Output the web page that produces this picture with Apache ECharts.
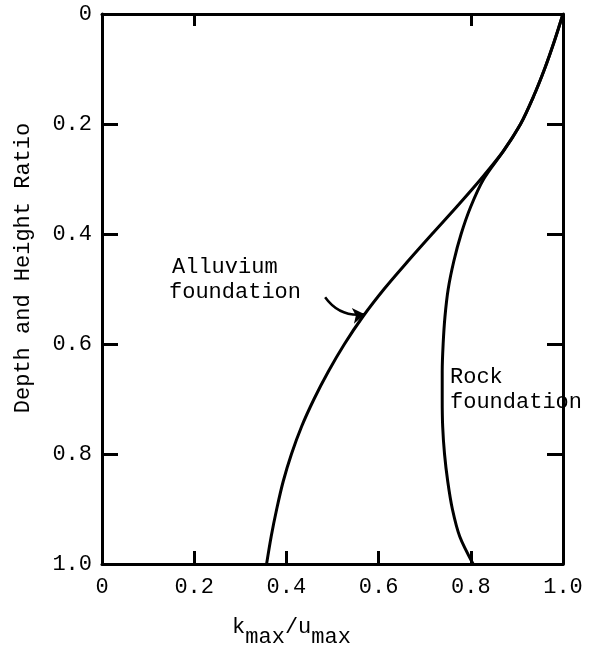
<!DOCTYPE html>
<html>
<head>
<meta charset="utf-8">
<script src="https://cdn.jsdelivr.net/npm/echarts@6/dist/echarts.min.js"></script>
<style>
  html, body { margin: 0; background: #fff; }
  #chart { width: 605px; height: 654px; }
</style>
</head>
<body>
<div id="chart"></div>
<script>
// values (x = k_max/u_max, y = depth and height ratio)
const depth = [0.00, 0.05, 0.10, 0.15, 0.20, 0.25, 0.30, 0.35, 0.40, 0.45, 0.50, 0.55, 0.60, 0.65, 0.70, 0.75, 0.80, 0.85, 0.90, 0.95, 1.00];
const alluviumX = [1.000, 0.981, 0.960, 0.936, 0.908, 0.870, 0.822, 0.770, 0.716, 0.663, 0.612, 0.566, 0.526, 0.491, 0.460, 0.433, 0.411, 0.393, 0.379, 0.367, 0.357];
const rockX = [1.000, 0.981, 0.960, 0.936, 0.908, 0.870, 0.828, 0.800, 0.779, 0.763, 0.751, 0.744, 0.740, 0.738, 0.738, 0.739, 0.743, 0.750, 0.760, 0.776, 0.805];
const axisTicks = [0, 0.2, 0.4, 0.6, 0.8, 1.0];
const innerTicks = [0.2, 0.4, 0.6, 0.8];
const topTicks = [0.2, 0.8];
const arrowFrom = [0.484, 0.515];
const arrowTo = [0.570, 0.546];

const font = "'Liberation Mono', monospace";
const black = '#000';

const pairs = (xs, ys) => xs.map((x, i) => [x, ys[i]]);
const fmt = v => (v === 0 ? '0' : v.toFixed(1));

const chart = echarts.init(document.getElementById('chart'));

const baseAxis = {
  type: 'value',
  min: 0,
  max: 1,
  interval: 0.2,
  splitLine: { show: false },
  axisLine: { show: true, onZero: false, lineStyle: { color: black, width: 3 } }
};
const tickStyle = { color: black, width: 3 };

chart.setOption({
  animation: false,
  grid: { left: 102, right: 42, top: 14, bottom: 90 },
  xAxis: [
    Object.assign({}, baseAxis, {
      position: 'bottom',
      axisTick: { inside: true, length: 13, customValues: innerTicks, lineStyle: tickStyle },
      axisLabel: { margin: 12, color: black, fontFamily: font, fontSize: 22, formatter: fmt, customValues: axisTicks },
      name: '{n|k}{s|max}{n|/u}{s|max}',
      nameLocation: 'middle',
      nameGap: 52,
      nameTextStyle: {
        padding: [0, 82, 0, 0],
        rich: {
          n: { fontFamily: font, fontSize: 22, color: black, lineHeight: 32, verticalAlign: 'top' },
          s: { fontFamily: font, fontSize: 22, color: black, lineHeight: 32, verticalAlign: 'bottom' }
        }
      }
    }),
    Object.assign({}, baseAxis, {
      position: 'top',
      axisTick: { inside: true, length: 12, customValues: topTicks, lineStyle: tickStyle },
      axisLabel: { show: false }
    })
  ],
  yAxis: [
    Object.assign({}, baseAxis, {
      position: 'left',
      inverse: true,
      axisTick: { inside: true, length: 16, customValues: innerTicks, lineStyle: tickStyle },
      axisLabel: { margin: 10, color: black, fontFamily: font, fontSize: 22, formatter: fmt, customValues: axisTicks },
      name: 'Depth and Height Ratio',
      nameLocation: 'middle',
      nameGap: 68,
      nameTextStyle: { color: black, fontFamily: font, fontSize: 22, padding: [0, 0, 0, 42] }
    }),
    Object.assign({}, baseAxis, {
      position: 'right',
      inverse: true,
      axisTick: { inside: true, length: 16, customValues: innerTicks, lineStyle: tickStyle },
      axisLabel: { show: false }
    })
  ],
  series: [
    {
      name: 'Alluvium foundation',
      type: 'line',
      data: pairs(alluviumX, depth),
      smooth: 0.3,
      showSymbol: false,
      lineStyle: { color: black, width: 3 }
    },
    {
      name: 'Rock foundation',
      type: 'line',
      data: pairs(rockX, depth),
      smooth: 0.3,
      showSymbol: false,
      lineStyle: { color: black, width: 3 }
    },
    {
      type: 'lines',
      coordinateSystem: 'cartesian2d',
      symbol: ['none', 'arrow'],
      symbolSize: 12,
      lineStyle: { color: black, width: 2.5, opacity: 1, curveness: -0.3 },
      data: [{ coords: [arrowFrom, arrowTo] }]
    }
  ],
  graphic: [
    { type: 'text', left: 172, top: 256, z: 10, style: { text: 'Alluvium', font: '22px ' + font, fill: black } },
    { type: 'text', left: 169, top: 281, z: 10, style: { text: 'foundation', font: '22px ' + font, fill: black } },
    { type: 'text', left: 450, top: 366, z: 10, style: { text: 'Rock', font: '22px ' + font, fill: black } },
    { type: 'text', left: 450, top: 391, z: 10, style: { text: 'foundation', font: '22px ' + font, fill: black } }
  ]
});
</script>
</body>
</html>
